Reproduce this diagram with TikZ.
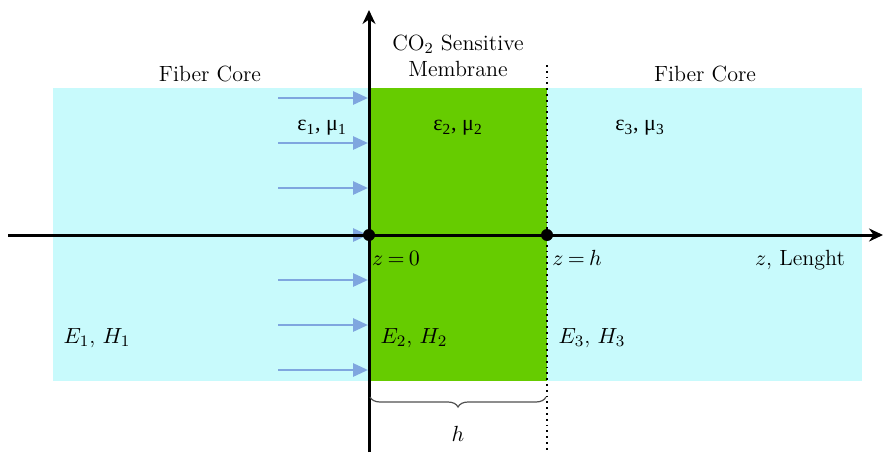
\documentclass[tikz,border=0pt]{standalone}
\usepackage{fontspec}
\newfontfamily\grk{Liberation Serif}
\usetikzlibrary{arrows.meta,decorations.pathreplacing}
\definecolor{core}{HTML}{C8FAFC}
\definecolor{memb}{HTML}{66CC00}
\definecolor{ray}{HTML}{7FA6DF}
\definecolor{bracec}{HTML}{505050}
\begin{document}
\begin{tikzpicture}[x=0.5pt,y=-0.5pt,
  font=\fontsize{11}{13}\selectfont,
  axisline/.style={line width=1.5pt,-{Stealth[length=7pt,width=6.5pt]}},
  rayarrow/.style={ray,line width=1.4pt,-{Triangle[length=7.5pt,width=6.5pt]}},
  lbl/.style={inner sep=0pt,anchor=center},
  dotmark/.style={circle,fill=black,inner sep=0pt,minimum size=6pt}]
\useasboundingbox (0,0) rectangle (883,455);
% regions
\fill[core] (53,88) rectangle (862,381);
\fill[memb] (369,88) rectangle (547,381);
% dotted boundary
\coordinate (dtop) at (547,65);
\coordinate (dbot) at (547,452);
\draw[black,line width=0.9pt,dotted] (dtop) -- (dbot);
% incident rays
\foreach \yy [count=\i] in {98,143,188,235,280,325,370}{
  \coordinate (rs\i) at (278,\yy);
  \coordinate (re\i) at (368,\yy);
  \draw[rayarrow] (rs\i) -- (re\i);
}
% axes
\coordinate (hl) at (8,235);
\coordinate (hr) at (883,235);
\coordinate (vb) at (369,452);
\coordinate (vt) at (369,10);
\draw[axisline] (hl) -- (hr);
\draw[axisline] (vb) -- (vt);
\node[dotmark] (o) at (369,235) {};
\node[dotmark] (hpt) at (547,235) {};
% brace
\coordinate (bl) at (370,397);
\coordinate (br) at (546,397);
\draw[bracec,line width=0.6pt,decorate,decoration={brace,mirror,amplitude=5pt}] (bl) -- (br);
\node[lbl] (hlab) at (458,434) {$h$};
% texts
\node[lbl] (fc1) at (210,74) {Fiber Core};
\node[lbl,align=center] (co2) at (458,56) {CO\textsubscript{2} Sensitive\\Membrane};
\node[lbl] (fc2) at (705,74) {Fiber Core};
\node[lbl] (em1) at (322,128) {\grk ε\textsubscript{1}, μ\textsubscript{1}};
\node[lbl] (em2) at (458,128) {\grk ε\textsubscript{2}, μ\textsubscript{2}};
\node[lbl] (em3) at (640,128) {\grk ε\textsubscript{3}, μ\textsubscript{3}};
\node[lbl] (z0) at (396,258) {\thickmuskip=3.5mu $z=0$};
\node[lbl] (zh) at (577,258) {\thickmuskip=3.5mu $z=h$};
\node[lbl] (zl) at (800,260) {$z$, Lenght};
\node[lbl] (eh1) at (97,338) {$E_1$, $H_1$};
\node[lbl] (eh2) at (414,338) {$E_2$, $H_2$};
\node[lbl] (eh3) at (592,338) {$E_3$, $H_3$};
\end{tikzpicture}
\end{document}
